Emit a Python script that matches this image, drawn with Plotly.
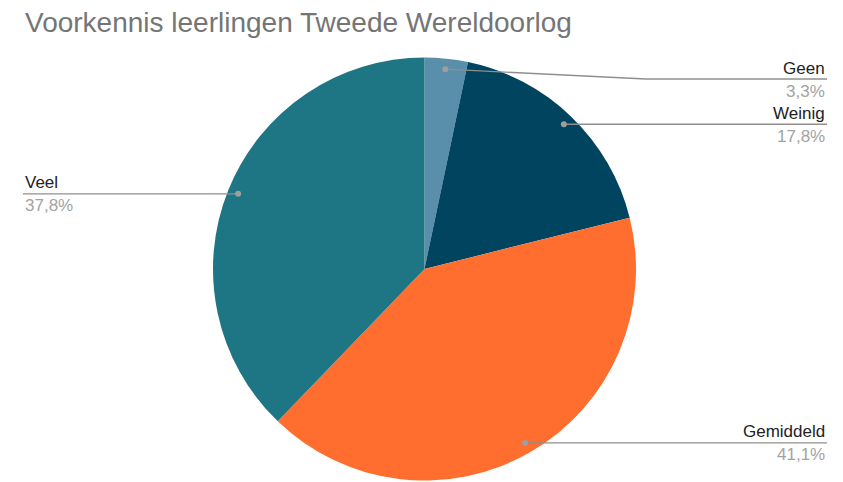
import math
import plotly.graph_objects as go

# ---- data ----
categories = ["Geen", "Weinig", "Gemiddeld", "Veel"]
values = [3.3, 17.8, 41.1, 37.8]
pct_labels = ["3,3%", "17,8%", "41,1%", "37,8%"]
colors = ["#5a8fab", "#00445f", "#ff6d2f", "#1e7584"]
title_text = "Voorkennis leerlingen Tweede Wereldoorlog"

# ---- layout constants (pixels) ----
W, H = 843, 482
CX, CY, R = 424.5, 269.0, 211.5
ANCHOR_FRAC = 0.95
RIGHT_X, LEFT_X = 827, 23
MIN_LINE_Y = 79
ELBOW_X = 646
LINE_COLOR = "#8f8f8f"
FONT = "Liberation Sans, Arial, sans-serif"

fig = go.Figure()

fig.add_trace(go.Pie(
    labels=categories, values=values, sort=False, direction="clockwise",
    rotation=0, marker=dict(colors=colors, line=dict(width=0)),
    textinfo="none", hoverinfo="label+percent", showlegend=False,
    domain=dict(x=[(CX - R) / W, (CX + R) / W],
                y=[(H - CY - R) / H, (H - CY + R) / H]),
))

total = sum(values)
shapes = []
annotations = []
cum = 0.0
for name, v, pct in zip(categories, values, pct_labels):
    mid = (cum + v / 2) / total * 2 * math.pi
    cum += v
    ax = CX + ANCHOR_FRAC * R * math.sin(mid)
    ay = CY - ANCHOR_FRAC * R * math.cos(mid)
    right = math.sin(mid) >= 0
    ly = max(ay, MIN_LINE_Y)
    end_x = RIGHT_X if right else LEFT_X
    if abs(ly - ay) > 0.5:
        shapes.append(dict(type="line", xref="x", yref="y", x0=ax, y0=ay,
                           x1=ELBOW_X, y1=ly, line=dict(color=LINE_COLOR, width=1.3)))
        shapes.append(dict(type="line", xref="x", yref="y", x0=ELBOW_X, y0=ly,
                           x1=end_x, y1=ly, line=dict(color=LINE_COLOR, width=1.3)))
    else:
        shapes.append(dict(type="line", xref="x", yref="y", x0=ax, y0=ly,
                           x1=end_x, y1=ly, line=dict(color=LINE_COLOR, width=1.3)))
    shapes.append(dict(type="circle", xref="x", yref="y", x0=ax - 3, x1=ax + 3,
                       y0=ay - 3, y1=ay + 3, fillcolor="#9e9e9e",
                       line=dict(width=0)))
    xa = "right" if right else "left"
    annotations.append(dict(x=end_x, y=ly - 11, xref="x", yref="y", text=name,
                            showarrow=False, xanchor=xa, yanchor="middle",
                            font=dict(family=FONT, size=17, color="#222222")))
    annotations.append(dict(x=end_x, y=ly + 12, xref="x", yref="y", text=pct,
                            showarrow=False, xanchor=xa, yanchor="middle",
                            font=dict(family=FONT, size=17, color="#a3a3a3")))

annotations.append(dict(x=LEFT_X, y=22, xref="x", yref="y", text=title_text,
                        showarrow=False, xanchor="left", yanchor="middle",
                        font=dict(family=FONT, size=28, color="#757575")))

fig.update_layout(
    width=W, height=H, margin=dict(l=0, r=0, t=0, b=0),
    paper_bgcolor="white", plot_bgcolor="rgba(0,0,0,0)",
    xaxis=dict(range=[0, W], visible=False, fixedrange=True),
    yaxis=dict(range=[H, 0], visible=False, fixedrange=True),
    shapes=shapes, annotations=annotations,
)

fig.write_html("out.html", config={"displayModeBar": False},
               post_script="document.body.style.margin='0';document.body.style.overflow='hidden';")
